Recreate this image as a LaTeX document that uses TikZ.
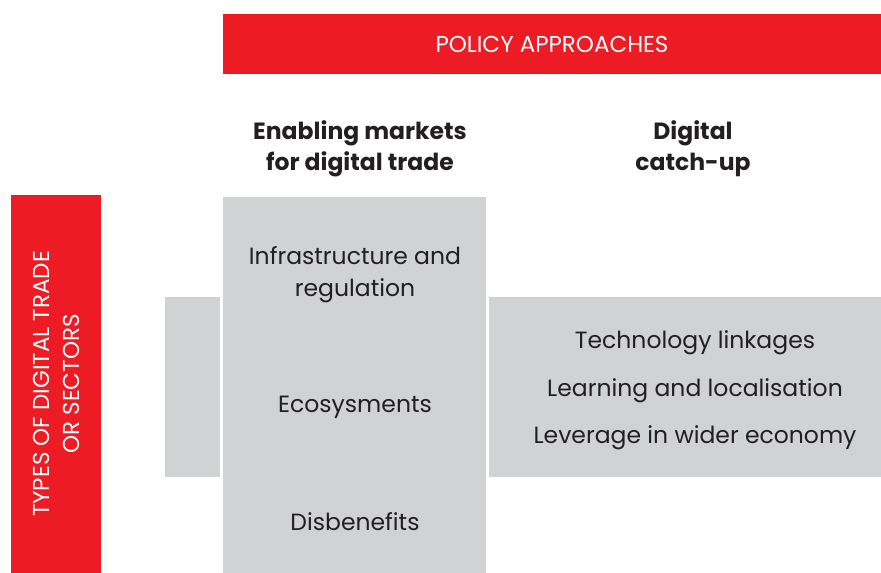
\documentclass[tikz,border=0pt]{standalone}
\usepackage{fontspec}
\setmainfont{Poppins}
\definecolor{policyred}{HTML}{ED1C24}
\definecolor{cellgray}{HTML}{D1D2D4}
\definecolor{inkgray}{HTML}{231F20}
\tikzset{
  redbar/.style={fill=policyred, text=white, inner sep=0pt, align=center,
    font=\fontsize{23}{30}\selectfont},
  cell/.style={fill=cellgray, inner sep=0pt},
  head/.style={text=inkgray, align=center, font=\fontsize{23.5}{31}\selectfont\bfseries},
  item/.style={text=inkgray, align=center, font=\fontsize{23.5}{32}\selectfont}
}
\begin{document}
\begin{tikzpicture}[x=1pt,y=-1pt]
    \useasboundingbox (0,0) rectangle (881,573);
    % bars
    \node[redbar, minimum width=658, minimum height=60] (policy) at (552,44) {POLICY APPROACHES};
    \node[redbar, minimum width=378, minimum height=90, rotate=90] (types) at (56,384) {TYPES OF DIGITAL TRADE\\OR SECTORS};
    % grey cells
    \node[cell, minimum width=55, minimum height=180] (stub) at (192.5,387) {};
    \node[cell, minimum width=263, minimum height=376] (enable) at (354.5,385) {};
    \node[cell, minimum width=392, minimum height=180] (catch) at (685,387) {};
    % column heads
    \node[head] (h1) at (360,149) {Enabling markets\\for digital trade};
    \node[head] (h2) at (693,149) {Digital\\catch-up};
    % items
    \node[item] (infra) at (355,275) {Infrastructure and\\regulation};
    \node[item] (eco) at (355,407) {Ecosysments};
    \node[item] (dis) at (355,522) {Disbenefits};
    \node[item] (tech) at (695,343) {Technology linkages};
    \node[item] (learn) at (695,391) {Learning and localisation};
    \node[item] (lever) at (695,438) {Leverage in wider economy};
  \end{tikzpicture}
\end{document}
